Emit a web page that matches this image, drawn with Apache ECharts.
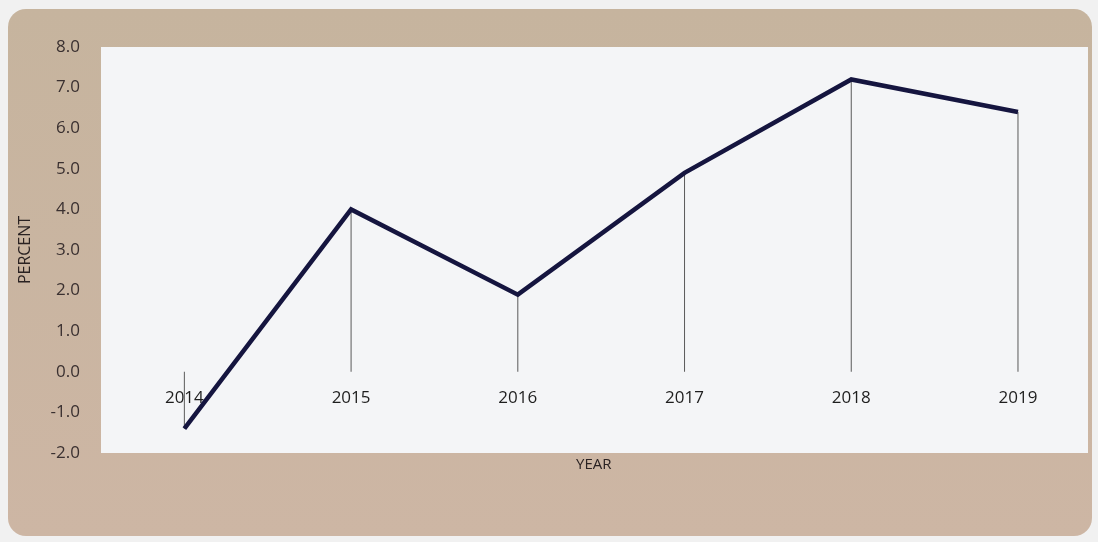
<!DOCTYPE html>
<html>
<head>
<meta charset="utf-8">
<script src="https://cdn.jsdelivr.net/npm/echarts@6/dist/echarts.min.js"></script>
<style>
  html, body { margin: 0; padding: 0; background: #f1f1f1; }
  #chart { width: 1098px; height: 542px; }
</style>
</head>
<body>
<div id="chart"></div>
<script>
// Annual growth rate, percent
const years = [2014, 2015, 2016, 2017, 2018, 2019];
const percent = [-1.4, 4.0, 1.9, 4.9, 7.2, 6.4];
const yTicks = [-2, -1, 0, 1, 2, 3, 4, 5, 6, 7, 8];

const points = years.map((y, i) => [y, percent[i]]);

const Y_MIN = -2, Y_MAX = 8;
const GRID_TOP = 47, GRID_BOTTOM = 89, CHART_H = 542;
// raise the year axis from the plot bottom up to the zero line
const plotH = CHART_H - GRID_TOP - GRID_BOTTOM;
const zeroLift = plotH * (0 - Y_MIN) / (Y_MAX - Y_MIN);

const chart = echarts.init(document.getElementById('chart'), null, { renderer: 'canvas' });

chart.setOption({
  backgroundColor: '#f1f1f1',
  animation: false,
  textStyle: { fontFamily: 'Open Sans' },
  graphic: [{
    type: 'rect',
    z: -10,
    shape: { x: 8, y: 9, width: 1084, height: 527, r: 18 },
    style: {
      fill: {
        type: 'linear', x: 0, y: 0, x2: 0, y2: 1,
        colorStops: [
          { offset: 0, color: '#c6b49e' },
          { offset: 1, color: '#cdb6a4' }
        ]
      }
    }
  }, {
    // axis title under the plot
    type: 'text',
    left: 576,
    top: 457,
    style: { text: 'YEAR', fill: '#2a2222', font: '15px "Open Sans"' }
  }],
  grid: {
    left: 101, right: 10, top: GRID_TOP, bottom: GRID_BOTTOM,
    outerBoundsMode: 'none',
    containLabel: false,
    show: true, backgroundColor: '#f4f5f7', borderWidth: 0
  },
  xAxis: {
    type: 'value',
    min: 2013.5,
    max: 2019.42,
    offset: -zeroLift,
    axisLine: { show: false, onZero: false },
    axisTick: { show: false },
    splitLine: { show: false },
    axisLabel: {
      customValues: years,
      margin: 18,
      color: '#1e1e1e',
      fontSize: 17,
      fontFamily: 'Open Sans',
      formatter: v => String(v)
    }
  },
  yAxis: {
    type: 'value',
    min: Y_MIN,
    max: Y_MAX,
    interval: 1,
    name: 'PERCENT',
    nameLocation: 'middle',
    nameRotate: 90,
    nameGap: 68,
    nameTextStyle: { color: '#2a2222', fontSize: 16, fontFamily: 'Open Sans' },
    axisLine: { show: false },
    axisTick: { show: false },
    splitLine: { show: false },
    axisLabel: {
      customValues: yTicks,
      margin: 21,
      color: '#3a3030',
      fontSize: 17,
      fontFamily: 'Open Sans',
      formatter: v => v.toFixed(1)
    }
  },
  series: [
    {
      // thin drop lines from the zero line to each point
      type: 'bar',
      data: points,
      barWidth: 1,
      itemStyle: { color: '#5a5a5a' },
      z: 1
    },
    {
      type: 'line',
      data: points,
      showSymbol: false,
      symbol: 'none',
      lineStyle: { color: '#15153f', width: 4.5, join: 'miter', cap: 'butt' },
      z: 3
    }
  ]
});
</script>
</body>
</html>
